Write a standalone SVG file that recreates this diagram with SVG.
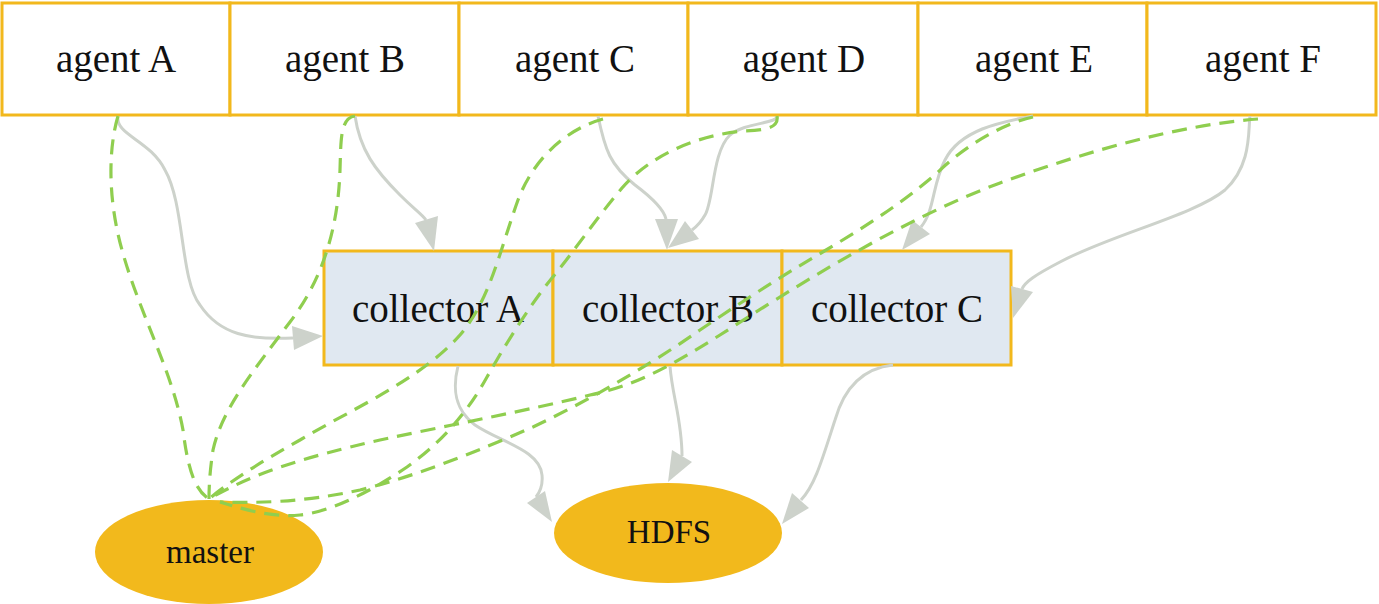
<svg xmlns="http://www.w3.org/2000/svg" width="1379" height="604" viewBox="0 0 1379 604">
<style>
.agent{fill:#ffffff;stroke:#f2b81c;stroke-width:3}
.coll{fill:#e0e8f1;stroke:#f2b81c;stroke-width:3}
.ell{fill:#f2b91c;stroke:none}
.lbl{font-family:"Liberation Serif","Times New Roman",serif;font-size:39px;fill:#111111;text-anchor:middle}
.lbl2{font-family:"Liberation Serif","Times New Roman",serif;font-size:33px;fill:#111111;text-anchor:middle}
.solid{fill:none;stroke:#cdd2cb;stroke-width:3}
.head{fill:#cdd2cb;stroke:none}
.dash{fill:none;stroke:#8fce4f;stroke-width:3.2;stroke-dasharray:15 9}
</style>
<rect width="1379" height="604" fill="#ffffff"/>
<g id="agentA"><rect class="agent" x="2" y="3" width="228" height="112"/><text class="lbl" x="116" y="72">agent A</text></g>
<g id="agentB"><rect class="agent" x="230" y="3" width="229" height="112"/><text class="lbl" x="345" y="72">agent B</text></g>
<g id="agentC"><rect class="agent" x="459" y="3" width="229" height="112"/><text class="lbl" x="575" y="72">agent C</text></g>
<g id="agentD"><rect class="agent" x="688" y="3" width="230" height="112"/><text class="lbl" x="804" y="72">agent D</text></g>
<g id="agentE"><rect class="agent" x="918" y="3" width="229" height="112"/><text class="lbl" x="1034" y="72">agent E</text></g>
<g id="agentF"><rect class="agent" x="1147" y="3" width="229" height="112"/><text class="lbl" x="1263" y="72">agent F</text></g>
<g id="collectorA"><rect class="coll" x="324" y="251" width="229" height="114"/><text class="lbl" x="438" y="322">collector A</text></g>
<g id="collectorB"><rect class="coll" x="553" y="251" width="229" height="114"/><text class="lbl" x="668" y="322">collector B</text></g>
<g id="collectorC"><rect class="coll" x="782" y="251" width="229" height="114"/><text class="lbl" x="897" y="322">collector C</text></g>
<g id="master"><ellipse class="ell" cx="209" cy="552" rx="114" ry="52"/><text class="lbl2" x="210" y="563">master</text></g>
<g id="HDFS"><ellipse class="ell" cx="668" cy="533" rx="114" ry="50"/><text class="lbl2" x="669" y="543">HDFS</text></g>
<g id="connectors">
<path class="solid" d="M118,116 C115,135 150,140 165,170 C185,205 180,280 200,305 C220,335 250,340 293,338"/>
<polygon class="head" points="323,336 292,326 294,350"/>
<path class="solid" d="M355,116 C360,150 375,170 400,195 C415,210 422,214 426,220"/>
<polygon class="head" points="434,251 415,223 438,216"/>
<path class="solid" d="M598,116 C605,150 610,165 635,185 C655,200 664,210 666,219"/>
<polygon class="head" points="667,250 655,219 678,219"/>
<path class="solid" d="M777,116 C778,124 745,122 730,135 C712,152 714,200 705,215 C700,224 696,227 692,230"/>
<polygon class="head" points="668,248 685,221 699,239"/>
<path class="solid" d="M1033,116 C1000,122 960,130 945,160 C932,185 935,210 921,227"/>
<polygon class="head" points="902,250 912,220 930,234"/>
<path class="solid" d="M1250,116 C1248,130 1252,165 1225,190 C1195,215 1110,235 1060,262 C1035,275 1025,282 1022,289"/>
<polygon class="head" points="1013,318 1011,286 1033,292"/>
<path class="solid" d="M458,366 C452,390 455,410 475,425 C500,442 540,450 542,475 C543,485 540,492 536,497"/>
<polygon class="head" points="552,522 545,491 527,503"/>
<path class="solid" d="M670,366 C672,395 682,420 682,456"/>
<polygon class="head" points="668,482 672,450 692,462"/>
<path class="solid" d="M893,365 C865,368 845,385 835,420 C822,460 815,485 801,500"/>
<polygon class="head" points="782,524 792,493 809,508"/>
<path class="dash" d="M118,116 C108,150 108,200 122,250 C140,315 172,370 183,430 C188,470 195,490 209,499"/>
<path class="dash" d="M355,116 C340,118 341,140 340,170 C338,230 322,280 290,322 C250,375 222,410 213,450 C210,470 209,485 209,499"/>
<path class="dash" d="M603,119 C570,128 535,155 518,200 C500,250 490,300 460,335 C420,380 350,410 300,440 C260,462 225,485 209,499"/>
<path class="dash" d="M777,116 C779,127 768,130 745,131 C700,134 650,155 622,188 C595,220 575,250 552,278 C530,305 505,345 487,377 C470,408 445,440 407,467 C370,492 330,512 300,515 C270,518 240,508 220,502"/>
<path class="dash" d="M1033,117 C1005,123 965,145 937,173 C900,205 860,230 821,253 C780,277 740,303 700,330 C660,358 600,395 533,427 C480,450 420,475 360,490 C300,503 255,503 220,502"/>
<path class="dash" d="M1258,119 C1180,125 1090,150 1000,183 C900,220 790,290 720,335 C680,360 640,385 590,395 C530,410 450,425 380,440 C300,458 250,475 209,499"/>
</g>
</svg>
